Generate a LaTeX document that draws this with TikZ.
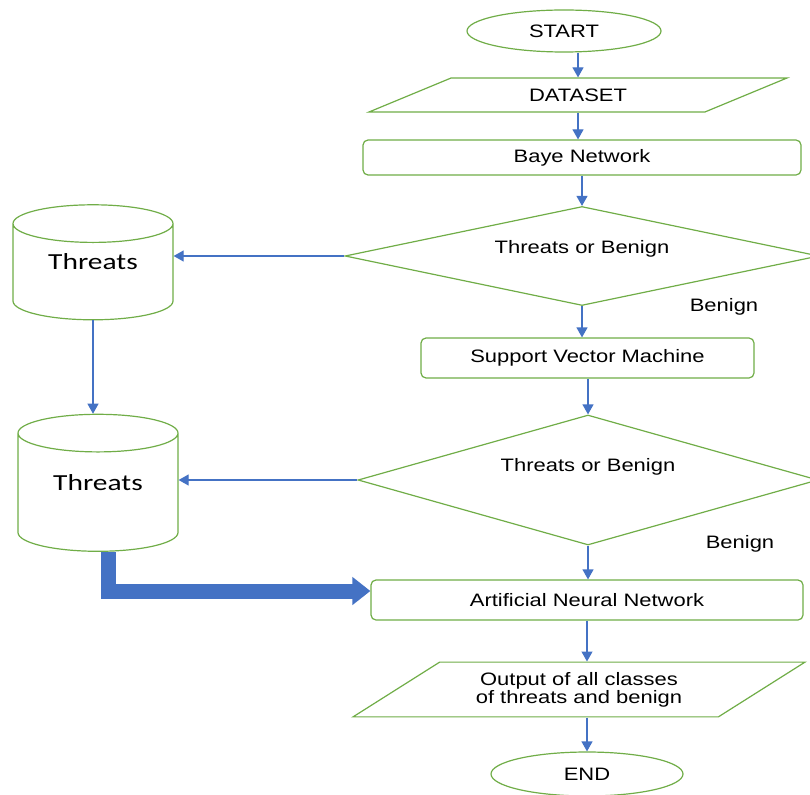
\documentclass[tikz,border=0pt]{standalone}
\usepackage{fontspec}
\setmainfont{Liberation Sans}[FakeStretch=1.22]
\newfontfamily\cylfont{Carlito}[FakeStretch=1.28]
\usepackage{xcolor}
\usetikzlibrary{arrows.meta, shapes.geometric, calc}
\definecolor{flowgreen}{HTML}{70AD47}
\definecolor{flowblue}{HTML}{4472C4}

\begin{document}
\begin{tikzpicture}[
        x=1pt, y=-1pt,
        base/.style={draw=flowgreen, line width=1.2pt, fill=white,
            font=\fontsize{18}{18}\selectfont, inner sep=0pt},
        terminal/.style={base, ellipse},
        iobox/.style={base, trapezium, trapezium stretches body=true,
            align=center},
        process/.style={base, rectangle, rounded corners=5pt},
        decision/.style={base, diamond},
        store/.style={base, cylinder, shape border rotate=90, aspect=0.42,
            font=\cylfont\fontsize{23}{23}\selectfont},
        line/.style={draw=flowblue, line width=1.2pt,
            -{Triangle[length=10pt, width=11pt]}},
        bigline/.style={draw=flowblue, line width=15pt,
            -{Triangle[length=18pt, width=27pt]}},
        tag/.style={font=\fontsize{18}{18}\selectfont},
    ]

    \useasboundingbox (0,0) rectangle (810,794);

    % 1. Start and dataset
    \node[terminal, minimum width=194pt, minimum height=42pt] (start)
        at (564,31) {START};
    \node[iobox, trapezium left angle=22.5, trapezium right angle=157.5,
          text height=15pt, text depth=2pt, inner ysep=8.5pt,
          minimum width=418pt] (data)
        at (578,95) {DATASET};

    % 2. Bayes network and first decision
    \node[process, minimum width=438pt, minimum height=35pt] (bayes)
        at (582,157.5) {Baye Network};
    \node[decision, minimum width=474pt, minimum height=99pt,
          label={[tag, yshift=7pt]center:Threats or Benign}] (dec1)
        at (582,256) {};
    \node[tag] (benign1) at (724,307) {Benign};

    % 3. SVM and second decision
    \node[process, minimum width=333pt, minimum height=40pt] (svm)
        at (587.5,358) {Support Vector Machine};
    \node[decision, minimum width=460pt, minimum height=130pt,
          label={[tag, yshift=13pt]center:Threats or Benign}] (dec2)
        at (588,480) {};
    \node[tag] (benign2) at (740,544) {Benign};

    % 4. Threat stores
    \node[store, minimum width=160pt, minimum height=115pt] (threats1)
        at (93,272) {\raisebox{10pt}[\height][\depth]{Threats}};
    \node[store, minimum width=160pt, minimum height=137pt] (threats2)
        at (98,492.5) {\raisebox{10pt}[\height][\depth]{Threats}};

    % 5. ANN, output and end
    \node[process, minimum width=432pt, minimum height=40pt] (ann)
        at (587,600) {Artificial Neural Network};
    \node[iobox, trapezium left angle=32.3, trapezium right angle=147.7,
          inner ysep=10pt, minimum width=452pt] (output)
        at (579,689.5) {Output of all classes\\of threats and benign};
    \node[terminal, minimum width=192pt, minimum height=44pt] (end)
        at (587,774) {END};

    % --- Arrows ---
    \path[line] (start.south -| data.north) -- (data.north);
    \path[line] (data.south) -- (data.south |- bayes.north);
    \path[line] (bayes.south -| dec1.north) -- (dec1.north);
    \path[line] (dec1.south) -- (dec1.south |- svm.north);
    \path[line] (svm.south -| dec2.north) -- (dec2.north);
    \path[line] (dec2.south) -- (dec2.south |- ann.north);
    \path[line] (ann.south) -- (ann.south |- output.north);
    \path[line] (output.south -| end.north) -- (end.north);
    \path[line] (dec1.west) -- (dec1.west -| threats1.east);
    \path[line] (dec2.west) -- (dec2.west -| threats2.east);
    \path[line] (threats1.bottom) -- (threats1.bottom |- threats2.top);
    \path[bigline] ([xshift=10pt]threats2.bottom) |- ([yshift=9pt]ann.west);

\end{tikzpicture}
\end{document}
